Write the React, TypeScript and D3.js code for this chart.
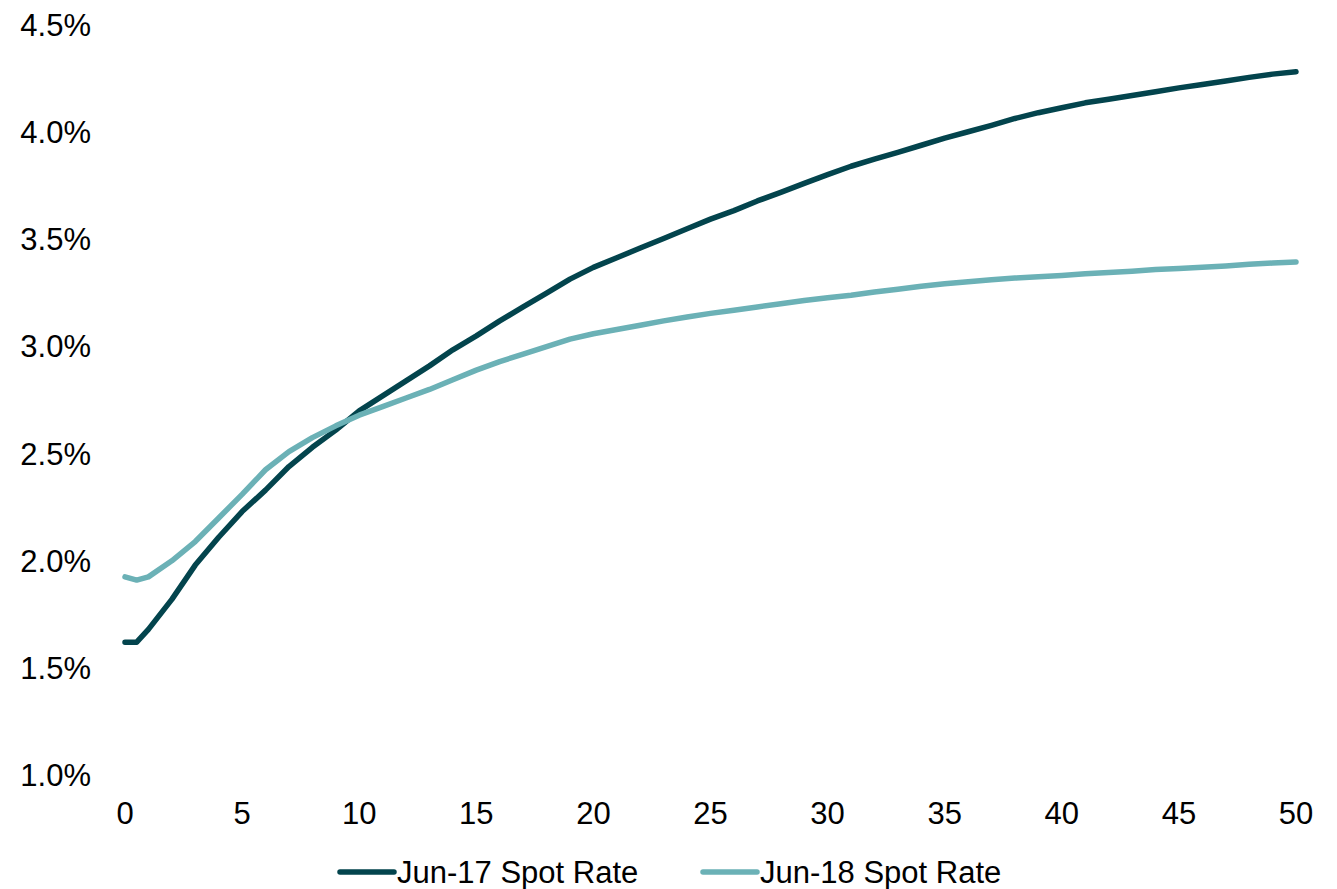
import React from "react";
import * as d3 from "d3";

const years = [0, 0.5, 1, 2, 3, 4, 5, 6, 7, 8, 9, 10, 11, 12, 13, 14, 15, 16, 17, 18, 19, 20, 21, 22, 23, 24, 25, 26, 27, 28, 29, 30, 31, 32, 33, 34, 35, 36, 37, 38, 39, 40, 41, 42, 43, 44, 45, 46, 47, 48, 49, 50];

const jun17 = [1.62, 1.62, 1.68, 1.82, 1.98, 2.11, 2.23, 2.33, 2.44, 2.53, 2.61, 2.70, 2.77, 2.84, 2.91, 2.985, 3.05, 3.12, 3.185, 3.25, 3.315, 3.37, 3.415, 3.46, 3.505, 3.55, 3.595, 3.635, 3.68, 3.72, 3.762, 3.803, 3.842, 3.875, 3.907, 3.94, 3.973, 4.003, 4.033, 4.065, 4.092, 4.115, 4.138, 4.155, 4.172, 4.19, 4.208, 4.224, 4.24, 4.257, 4.272, 4.283];

const jun18 = [1.925, 1.91, 1.925, 2.00, 2.09, 2.20, 2.31, 2.425, 2.51, 2.575, 2.63, 2.68, 2.72, 2.76, 2.80, 2.845, 2.89, 2.93, 2.965, 3.00, 3.035, 3.06, 3.08, 3.10, 3.12, 3.138, 3.155, 3.17, 3.185, 3.20, 3.215, 3.228, 3.24, 3.255, 3.268, 3.282, 3.293, 3.303, 3.312, 3.32, 3.326, 3.332, 3.34, 3.346, 3.352, 3.36, 3.365, 3.37, 3.376, 3.384, 3.39, 3.395];

const xTicks = [0, 5, 10, 15, 20, 25, 30, 35, 40, 45, 50];
const yTicks = [1.0, 1.5, 2.0, 2.5, 3.0, 3.5, 4.0, 4.5];

const seriesNames = ["Jun-17 Spot Rate", "Jun-18 Spot Rate"];
const seriesColors = ["#03444D", "#6BB1B6"];

export default function App() {
  const W = 1337;
  const H = 889;
  const x = d3.scaleLinear().domain([0, 50]).range([125, 1296]);
  const y = d3.scaleLinear().domain([1.0, 4.5]).range([775, 25.3]);
  const font = "Arial, 'Liberation Sans', sans-serif";
  const fs = 31;

  const line = d3
    .line<[number, number]>()
    .x((d) => x(d[0]))
    .y((d) => y(d[1]));

  const data = [jun17, jun18].map((vals) => years.map((t, i) => [t, vals[i]] as [number, number]));

  const legendItems = [
    { lx: 340, tx: 397 },
    { lx: 703, tx: 760 },
  ];

  return (
    <svg
      width={W}
      height={H}
      style={{ position: "absolute", left: 0, top: 0, background: "#fff" }}
      fontFamily={font}
    >
      {yTicks.map((v) => (
        <text key={v} x={91} y={y(v)} dy="0.35em" textAnchor="end" fontSize={fs} fill="#000">
          {v.toFixed(1) + "%"}
        </text>
      ))}
      {xTicks.map((t) => (
        <text key={t} x={x(t)} y={813} dy="0.35em" textAnchor="middle" fontSize={fs} fill="#000">
          {t}
        </text>
      ))}
      {data.map((d, i) => (
        <path
          key={i}
          d={line(d) || ""}
          fill="none"
          stroke={seriesColors[i]}
          strokeWidth={5.5}
          strokeLinecap="round"
          strokeLinejoin="round"
        />
      ))}
      {legendItems.map((it, i) => (
        <g key={i}>
          <line x1={it.lx} x2={it.lx + 54} y1={872} y2={872} stroke={seriesColors[i]} strokeWidth={5.5} strokeLinecap="round" />
          <text x={it.tx} y={872} dy="0.35em" fontSize={fs} fill="#000">
            {seriesNames[i]}
          </text>
        </g>
      ))}
    </svg>
  );
}
